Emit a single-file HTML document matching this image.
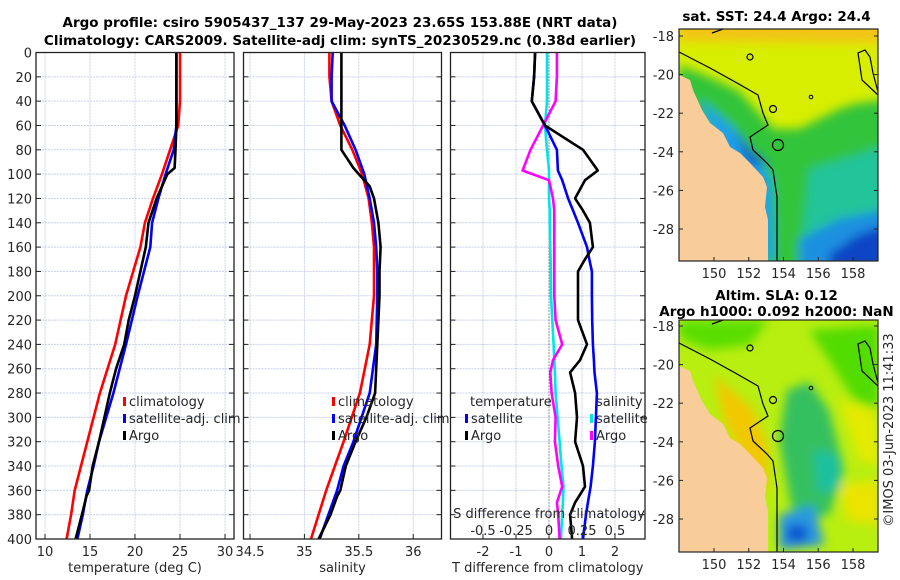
<!DOCTYPE html>
<html><head><meta charset="utf-8"><style>
body{margin:0;background:#fff;}
svg{display:block;font-family:"DejaVu Sans","Liberation Sans",sans-serif;}
.t{font-size:13px;fill:#262626;}
.b{font-size:13.5px;font-weight:bold;fill:#000;}
.grid{stroke:#c8d0ec;stroke-width:1;stroke-dasharray:2,1;}
</style></head><body>
<svg id="fig" width="900" height="580" viewBox="0 0 900 580">
<text class="b" x="340" y="27" text-anchor="middle">Argo profile: csiro 5905437_137 29-May-2023 23.65S 153.88E (NRT data)</text>
<text class="b" x="340" y="45" text-anchor="middle">Climatology: CARS2009. Satellite-adj clim: synTS_20230529.nc (0.38d earlier)</text>
<g id="p1"></g>
<g id="p2"></g>
<g id="p3"></g>
<g id="maps"></g>
<text class="t" transform="translate(893,430) rotate(-90)" text-anchor="middle">©IMOS 03-Jun-2023 11:41:33</text>
</svg>
<script>
const depths=[0,20,40,60,80,100,120,140,160,180,200,240,280,320,340,360,380,400];
const tempClim=[25,25,25,24.8,23.9,23,22,21.1,20.6,19.8,19,17.8,16.1,14.7,14.0,13.3,12.9,12.4];
const tempSat=[24.6,24.6,24.6,24.6,24.3,23.4,22.6,21.9,21.7,21,20.3,19,17.6,16,15.4,14.7,14.2,13.6];
const argoDepths=[0,20,40,60,80,95,100,110,120,140,160,180,200,220,240,260,280,300,320,340,360,365,380,400];
const tempArgo=[24.6,24.6,24.6,24.6,24.5,24.4,23.6,23.0,22.4,21.5,21.2,20.6,20.0,19.3,18.8,17.9,17.2,16.6,16.0,15.3,14.9,14.6,14.1,13.4];
const salClim=[35.23,35.23,35.25,35.33,35.44,35.53,35.59,35.62,35.64,35.64,35.64,35.6,35.51,35.36,35.28,35.2,35.13,35.06];
const salSat=[35.26,35.25,35.25,35.37,35.47,35.55,35.6,35.64,35.66,35.67,35.67,35.66,35.6,35.45,35.36,35.3,35.22,35.14];
const salArgo=[35.34,35.34,35.34,35.34,35.34,35.45,35.5,35.6,35.64,35.68,35.7,35.69,35.69,35.68,35.67,35.66,35.65,35.57,35.47,35.38,35.33,35.3,35.24,35.13];
const diffDepths=[0,20,40,60,80,97,105,120,130,140,160,170,180,200,220,240,253,263,280,300,320,340,357,370,380,400];
const tDiffSat=[-0.42,-0.45,-0.52,-0.12,0.24,0.27,0.4,0.58,0.73,0.88,1.15,1.22,1.3,1.3,1.31,1.33,1.36,1.38,1.45,1.42,1.39,1.33,1.26,1.18,1.12,1.03];
const tDiffArgo=[-0.42,-0.45,-0.52,-0.12,1.03,1.48,1.09,0.79,1.03,1.24,1.33,1.09,0.88,0.88,0.88,1.15,0.94,0.64,0.79,0.85,0.79,1.03,1.09,0.79,0.64,0.7];
const sDiffSat=[-0.015,-0.015,-0.015,-0.03,-0.015,0,0,0,0.005,0.005,0.01,0.012,0.014,0.015,0.025,0.035,0.04,0.045,0.05,0.065,0.08,0.095,0.11,0.105,0.1,0.09];
const sDiffArgo=[0.06,0.06,0.05,-0.045,-0.14,-0.2,0.0,0.03,0.04,0.04,0.04,0.04,0.04,0.04,0.05,0.1,0.03,0.01,0.02,0.05,0.045,0.07,0.1,0.06,0.07,0.08];
const tTicks=[10,15,20,25,30];
const sTicks=[34.5,35,35.5,36];
const dTicks=[-2,-1,0,1,2];
const sdTicks=[-0.5,-0.25,0,0.25,0.5];
const depthTicks=[0,20,40,60,80,100,120,140,160,180,200,220,240,260,280,300,320,340,360,380,400];

const NS="http://www.w3.org/2000/svg";
function mk(tag,attrs,parent){const e=document.createElementNS(NS,tag);for(const k in attrs)e.setAttribute(k,attrs[k]);parent.appendChild(e);return e;}
const Y0=52.5,Y1=539;
const yD=d=>Y0+d*(Y1-Y0)/400;
function lin(d0,d1,r0,r1){return v=>r0+(v-d0)*(r1-r0)/(d1-d0);}

function panel(g,x0,x1,xs,ticks,fmt,xlabel,showDepth){
  for(const t of ticks){const l=mk('line',{x1:xs(t),x2:xs(t),y1:Y0,y2:Y1,class:'grid'},g);
    }
  for(const d of depthTicks){const l=mk('line',{x1:x0,x2:x1,y1:yD(d),y2:yD(d),class:'grid'},g);
    
    const tk=mk('line',{x1:x1-5,x2:x1,y1:yD(d),y2:yD(d),stroke:'#222'},g);
    
    const tk2=mk('line',{x1:x0,x2:x0+5,y1:yD(d),y2:yD(d),stroke:'#222'},g);
    
    if(showDepth){const tx=mk('text',{x:x0-4,y:yD(d)+5,'text-anchor':'end',class:'t'},g);tx.textContent=d;
      }}
  for(const t of ticks){
    const tk=mk('line',{x1:xs(t),x2:xs(t),y1:Y1-5,y2:Y1,stroke:'#222'},g);
    
    if(fmt){const tx=mk('text',{x:xs(t),y:556,'text-anchor':'middle',class:'t'},g);tx.textContent=fmt(t);
    }}
  const xl=mk('text',{x:(x0+x1)/2,y:572,'text-anchor':'middle',class:'t'},g);xl.textContent=xlabel;
  
}
function frame(g,x0,x1){const r=mk('rect',{x:x0,y:Y0,width:x1-x0,height:Y1-Y0,fill:'none',stroke:'#222','stroke-width':1.3},g);
  }
function line(g,xs,vals,ds,color,name){
  const pts=vals.map((v,i)=>xs(v).toFixed(1)+','+yD(ds[i]).toFixed(1)).join(' ');
  const p=mk('polyline',{points:pts,fill:'none',stroke:color,'stroke-width':2.6,'stroke-linejoin':'round'},g);
  }
function legend(g,x,y,items){items.forEach((it,i)=>{
  const m=mk('rect',{x:x-6,y:y+i*17-4,width:3,height:9,fill:it[1]},g);
  
  const t=mk('text',{x:x,y:y+i*17+5,class:'t'},g);t.textContent=it[0];
  });}

const p1=document.getElementById('p1');
const xT=lin(9,31,36,234);
panel(p1,36,234,xT,tTicks,v=>v,'temperature (deg C)',true);
line(p1,xT,tempClim,depths,'#ff0000','temperature-climatology-line');
line(p1,xT,tempSat,depths,'#0000ff','temperature-satellite-line');
line(p1,xT,tempArgo,argoDepths,'#000000','temperature-argo-line');
legend(p1,129,401,[['climatology','#ff0000'],['satellite-adj. clim','#0000ff'],['Argo','#000']]);
frame(p1,36,234);
const p2=document.getElementById('p2');
const xS=lin(34.44,36.26,243.5,441.5);
panel(p2,243.5,441.5,xS,sTicks,v=>v,'salinity',false);
line(p2,xS,salClim,depths,'#ff0000','salinity-climatology-line');
line(p2,xS,salSat,depths,'#0000ff','salinity-satellite-line');
line(p2,xS,salArgo,argoDepths,'#000000','salinity-argo-line');
legend(p2,338,401,[['climatology','#ff0000'],['satellite-adj. clim','#0000ff'],['Argo','#000']]);
frame(p2,243.5,441.5);
const p3=document.getElementById('p3');
const xDT=lin(0,1,549,582);
const xDS=lin(0,0.25,549,582);
panel(p3,450.5,645,xDT,dTicks,v=>v,'T difference from climatology',false);
const zl=mk('line',{x1:xDT(0),x2:xDT(0),y1:Y0,y2:Y1,stroke:'#444','stroke-dasharray':'1,2'},p3);

line(p3,xDS,sDiffSat,diffDepths,'#00e5e5','salinity-diff-satellite-line');
line(p3,xDS,sDiffArgo,diffDepths,'#ff00ff','salinity-diff-argo-line');
line(p3,xDT,tDiffSat,diffDepths,'#0000ff','temperature-diff-satellite-line');
line(p3,xDT,tDiffArgo,diffDepths,'#000000','temperature-diff-argo-line');
const lt=mk('text',{x:470,y:406,class:'t'},p3);lt.textContent='temperature';

const ls=mk('text',{x:596,y:406,class:'t'},p3);ls.textContent='salinity';

legend(p3,471,418,[['satellite','#0000ff'],['Argo','#000']]);
legend(p3,596,418,[['satellite','#00e5e5'],['Argo','#ff00ff']]);
const st=mk('text',{x:549,y:518,'text-anchor':'middle',class:'t'},p3);st.textContent='S difference from climatology';

for(const s of sdTicks){const t=mk('text',{x:xDS(s),y:535,'text-anchor':'middle',class:'t'},p3);t.textContent=s;
  }
frame(p3,450.5,645);

const maps=document.getElementById('maps');
const defs=mk('defs',{},maps);
const f=mk('filter',{id:'bl',x:'-20%',y:'-20%',width:'140%',height:'140%'},defs);mk('feGaussianBlur',{stdDeviation:5},f);
const lonTicks=[150,152,154,156,158];
const latTicks=[-18,-20,-22,-24,-26,-28];
function P(x0,y0,pts){return pts.map((p,i)=>(i?'L':'M')+(x0+p[0])+','+(y0+p[1])).join(' ');}
function map(x0,y0,yLat18,title1,title2,blobs,bg){
  const g=mk('g',{},maps);
  const W=199,H=232;const id='c'+y0;
  const cp=mk('clipPath',{id:id},defs);mk('rect',{x:x0,y:y0,width:W,height:H},cp);
  const inner=mk('g',{'clip-path':'url(#'+id+')'},g);
  mk('rect',{x:x0,y:y0,width:W,height:H,fill:bg},inner);
  const bg2=mk('g',{filter:'url(#bl)'},inner);
  blobs.forEach(b=>mk('path',{d:P(x0,y0,b[0])+'Z',fill:b[1]},bg2));
  const land=[[0,46],[11,51],[14,61],[23,81],[31,94],[44,104],[51,118],[61,124],[71,134],[84,148],[88,158],[86,178],[89,191],[89,232],[0,232]];
  const lp=mk('path',{d:P(x0,y0,land)+'Z',fill:'#f9cd9a'},inner);
  
  const c1=[[0,23],[31,39],[58,54],[79,66],[84,84],[89,96],[71,108],[74,121],[88,134],[94,141],[98,168],[98,198],[98,232]];
  const cl=mk('path',{d:P(x0,y0,c1),fill:'none',stroke:'#000','stroke-width':1.2},inner);
  
  const c2=[[199,66],[183,51],[179,24],[186,21],[191,28],[194,44],[199,63]];
  mk('path',{d:P(x0,y0,c2),fill:'none',stroke:'#000','stroke-width':1.2},inner);
  mk('path',{d:P(x0,y0,[[33,4],[44,0],[60,-2]]),fill:'none',stroke:'#000','stroke-width':1.2},inner);
  mk('circle',{cx:x0+99,cy:y0+116,r:5.5,fill:'none',stroke:'#000','stroke-width':1.2},inner);
  mk('circle',{cx:x0+71,cy:y0+28,r:3,fill:'none',stroke:'#000','stroke-width':1.2},inner);
  mk('circle',{cx:x0+94,cy:y0+80,r:3.5,fill:'none',stroke:'#000','stroke-width':1.2},inner);
  mk('circle',{cx:x0+132,cy:y0+68,r:1.8,fill:'none',stroke:'#000','stroke-width':1},inner);
  const fr=mk('rect',{x:x0,y:y0,width:W,height:H,fill:'none',stroke:'#222','stroke-width':1.2},g);
  
  const xl=lin(150,158,714,853),yl=lin(-18,-28,yLat18,yLat18+193);
  for(const lo of lonTicks){const t=mk('text',{x:xl(lo),y:y0+H+17,'text-anchor':'middle',class:'t'},g);t.textContent=lo;
    
    mk('line',{x1:xl(lo),x2:xl(lo),y1:y0+H,y2:y0+H-4,stroke:'#222'},g);}
  for(const la of latTicks){const t=mk('text',{x:x0-5,y:yl(la)+5,'text-anchor':'end',class:'t'},g);t.textContent=la;
    
    mk('line',{x1:x0,x2:x0+4,y1:yl(la),y2:yl(la),stroke:'#222'},g);mk('line',{x1:x0+W-4,x2:x0+W,y1:yl(la),y2:yl(la),stroke:'#222'},g);}
  const t1=mk('text',{x:x0+W/2-2,y:title2?y0-20:y0-8,'text-anchor':'middle',class:'b'},g);t1.textContent=title1;
  
  if(title2){const t2=mk('text',{x:x0+W/2-2,y:y0-4,'text-anchor':'middle',class:'b'},g);t2.textContent=title2;
    }
}
map(679,29,36,'sat. SST: 24.4 Argo: 24.4',null,[
  [[[0,-10],[220,-10],[220,14],[0,12]],'#f2c418'],
  [[[0,36],[30,48],[60,62],[85,90],[95,100],[120,100],[140,90],[160,80],[175,75],[210,70],[210,240],[0,240]],'#33c43a'],
  [[[130,140],[180,125],[210,115],[210,240],[120,240]],'#22c49a'],
  [[[120,210],[160,190],[210,180],[210,240],[120,240]],'#1a90e0'],
  [[[150,225],[180,205],[210,195],[210,240],[150,240]],'#0c44c4'],
  [[[20,70],[50,95],[75,125],[92,150],[95,232],[85,232],[75,170],[40,120]],'#1ca0ea'],
  [[[55,100],[75,125],[90,135],[70,135]],'#0a40c0']
],'#d8ee00');
map(679,320,326,'Altim. SLA: 0.12','Argo h1000: 0.092 h2000: NaN',[
  [[[0,0],[90,0],[70,25],[30,30],[0,18]],'#5ade00'],
  [[[130,10],[200,5],[200,90],[175,80],[150,40]],'#52dc00'],
  [[[35,55],[75,90],[90,130],[88,175],[70,150],[45,100]],'#f2c800'],
  [[[108,70],[130,62],[150,90],[165,150],[150,195],[115,200],[100,120]],'#36c060'],
  [[[135,130],[160,135],[162,170],[138,172]],'#1cc0a0'],
  [[[100,195],[135,185],[145,225],[100,230]],'#2a98e0'],
  [[[108,205],[128,205],[128,222],[108,222]],'#1055d0'],
  [[[160,80],[195,90],[200,145],[180,140]],'#e4ea00'],
  [[[160,165],[200,160],[200,205],[168,200]],'#eae400']
],'#b8ee10');
</script>
</body></html>
